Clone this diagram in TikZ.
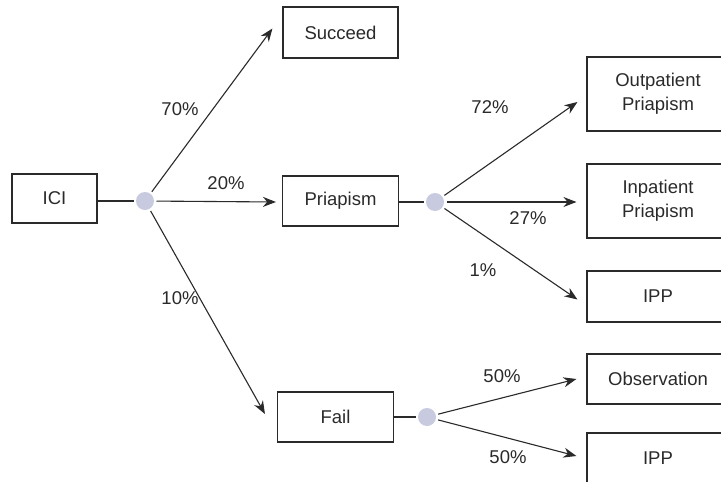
\documentclass[tikz,border=0pt]{standalone}
\usepackage{fontspec}
\setmainfont{Liberation Sans}
\usetikzlibrary{arrows.meta,calc}
\definecolor{dotfill}{HTML}{C8CADF}
\definecolor{ink}{HTML}{2A2A2A}
\begin{document}
\begin{tikzpicture}[x=1pt,y=-1pt,
  box/.style={draw=ink, line width=1.1pt, inner sep=0pt, align=center,
    font=\fontsize{18.5}{24}\selectfont, text=ink},
  dot/.style={circle, fill=dotfill, minimum size=18pt, inner sep=0pt, outer sep=2.5pt},
  conn/.style={draw=ink, line width=1.1pt},
  arr/.style={conn, -{Stealth[length=13pt,width=10pt]}},
  pct/.style={font=\fontsize{18.5}{22}\selectfont, text=ink, inner sep=0pt}]
\useasboundingbox (0,0) rectangle (721,482);
\clip (0,0) rectangle (721,482);
\fill[white] (0,0) rectangle (721,482);
% boxes
\node[box, minimum width=85pt, minimum height=49pt] (ici) at (54.5,198.5) {ICI};
\node[box, minimum width=115pt, minimum height=51pt] (succeed) at (340.5,32.5) {Succeed};
\node[box, minimum width=116pt, minimum height=50pt] (priapism) at (340.5,201) {Priapism};
\node[box, minimum width=116pt, minimum height=50pt] (fail) at (335.5,417) {Fail};
\node[box, minimum width=142pt, minimum height=74pt] (outp) at (658,94) {Outpatient\\Priapism};
\node[box, minimum width=142pt, minimum height=74pt] (inp) at (658,201) {Inpatient\\Priapism};
\node[box, minimum width=142pt, minimum height=51pt] (ipp1) at (658,296.5) {IPP};
\node[box, minimum width=142pt, minimum height=50pt] (obs) at (658,379) {Observation};
\node[box, minimum width=142pt, minimum height=50pt] (ipp2) at (658,458) {IPP};
% chance nodes
\node[dot] (c1) at (145,201) {};
\node[dot] (c2) at (435,202) {};
\node[dot] (c3) at (427,417) {};
% connectors
\draw[conn] (ici.east |- c1) -- (c1);
\draw[conn] (priapism.east |- c2) -- (c2);
\draw[conn] (fail.east |- c3) -- (c3);
\draw[arr] (c1) -- ($(succeed.west)+(-10,-4)$);
\draw[arr] (c1) -- ($(priapism.west)+(-6,1)$);
\draw[arr] (c1) -- ($(fail.west)+(-12,-3)$);
\draw[arr] (c2) -- ($(outp.west)+(-9,8)$);
\draw[arr] (c2) -- ($(inp.west)+(-10,1)$);
\draw[arr] (c2) -- ($(ipp1.west)+(-9,3)$);
\draw[arr] (c3) -- ($(obs.west)+(-10,0)$);
\draw[arr] (c3) -- ($(ipp2.west)+(-10,-2)$);
% labels
\node[pct] at (180,109) {70\%};
\node[pct] at (226,183) {20\%};
\node[pct] at (180,298) {10\%};
\node[pct] at (490,107) {72\%};
\node[pct] at (528,218) {27\%};
\node[pct] at (483,270) {1\%};
\node[pct] at (502,376) {50\%};
\node[pct] at (508,457) {50\%};
\end{tikzpicture}
\end{document}
